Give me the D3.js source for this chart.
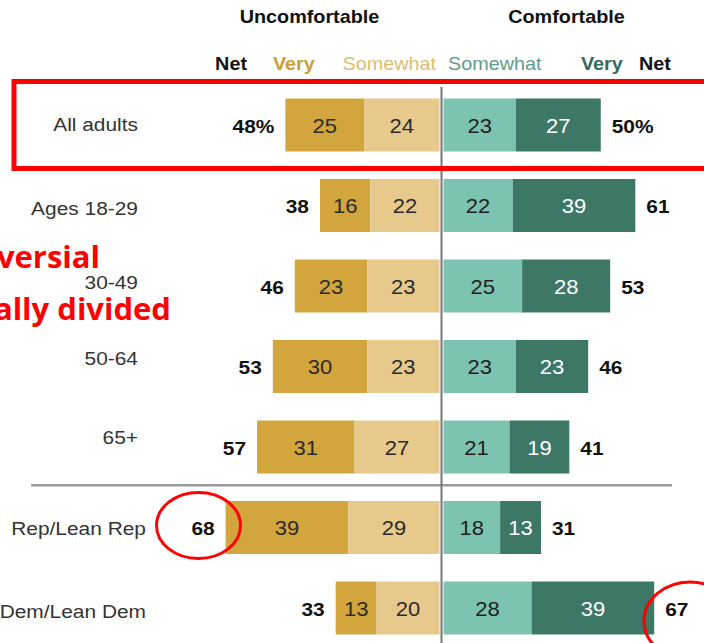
<!DOCTYPE html>
<html>
<head>
<meta charset="utf-8">
<script src="https://cdn.jsdelivr.net/npm/d3@7"></script>
<style>
  html, body { margin: 0; padding: 0; background: #fff; overflow: hidden; }
  svg { display: block; }
</style>
</head>
<body>
<svg id="chart" width="704" height="643"></svg>
<script>
// Row groups, top to bottom
const groups = ["All adults", "Ages 18-29", "30-49", "50-64", "65+", "Rep/Lean Rep", "Dem/Lean Dem"];

// Uncomfortable side
const veryUncomfortable     = [25, 16, 23, 30, 31, 39, 13];
const somewhatUncomfortable = [24, 22, 23, 23, 27, 29, 20];
const netUncomfortable      = [48, 38, 46, 53, 57, 68, 33];

// Comfortable side
const somewhatComfortable = [23, 22, 25, 23, 21, 18, 28];
const veryComfortable     = [27, 39, 28, 23, 19, 13, 39];
const netComfortable      = [50, 61, 53, 46, 41, 31, 67];

const colors = {
  veryUnc: "#d2a53d",
  someUnc: "#e6c98b",
  someCom: "#7dc3b1",
  veryCom: "#3d7766"
};

const W = 704, H = 643;
const svg = d3.select("#chart");
const FONT = "'Liberation Sans', Arial, sans-serif";

const center = 441.5, unit = 3.145, gap = 2;
// Left-hand scale grows leftwards from the divider, right-hand scale rightwards
const xl = d3.scaleLinear().domain([0, 70]).range([center - gap, center - gap - 70 * unit]);
const xr = d3.scaleLinear().domain([0, 70]).range([center + gap, center + gap + 70 * unit]);
const y = d3.scalePoint().domain(groups).range([125, 608]);
const barH = 53;

// Vertical nudges for the row names (layout only)
const nameNudge = [-3, 0, -6, -11, -12, -2, 1];

// Text helper: slightly widened sans to echo the condensed-looking original lettering
function label(g, x, yy, s, size, opts = {}) {
  return g.append("text")
    .attr("transform", `translate(${x},${yy}) scale(1.1,1)`)
    .attr("font-family", FONT)
    .attr("font-size", size)
    .attr("font-weight", opts.weight || "normal")
    .attr("fill", opts.fill || "#222")
    .attr("text-anchor", opts.anchor || "start")
    .text(s);
}

const rows = groups.map((g, i) => ({
  g, i,
  vu: veryUncomfortable[i], su: somewhatUncomfortable[i], nu: netUncomfortable[i],
  sc: somewhatComfortable[i], vc: veryComfortable[i], nc: netComfortable[i]
}));

// Column headers
const hdr = svg.append("g");
label(hdr, center - 132, 23, "Uncomfortable", 18, { weight: "bold", anchor: "middle", fill: "#111" });
label(hdr, center + 125, 23, "Comfortable", 18, { weight: "bold", anchor: "middle", fill: "#111" });
label(hdr, 247, 70, "Net", 18, { weight: "bold", anchor: "end", fill: "#111" });
label(hdr, 273, 70, "Very", 18, { weight: "bold", fill: "#c9a031" });
label(hdr, 436, 70, "Somewhat", 18, { anchor: "end", fill: "#dcbd6c" });
label(hdr, 448, 70, "Somewhat", 18, { fill: "#5d9d8b" });
label(hdr, 581, 70, "Very", 18, { weight: "bold", fill: "#2f6c59" });
label(hdr, 639, 70, "Net", 18, { weight: "bold", fill: "#111" });

// Divider between age groups and partisan groups
const sepY = (y(groups[4]) + y(groups[5])) / 2 - 2;
svg.append("line")
  .attr("x1", 31).attr("x2", 672)
  .attr("y1", sepY).attr("y2", sepY)
  .attr("stroke", "#9a9a9a").attr("stroke-width", 2.5);

// Bars
const bars = svg.append("g");
const rowG = bars.selectAll("g.row").data(rows).join("g").attr("class", "row");

const segs = [
  { key: "veryUnc", x0: d => xl(d.su + d.vu), x1: d => xl(d.su), v: d => d.vu, txt: "#2b2b2b" },
  { key: "someUnc", x0: d => xl(d.su), x1: d => xl(0), v: d => d.su, txt: "#2b2b2b" },
  { key: "someCom", x0: d => xr(0), x1: d => xr(d.sc), v: d => d.sc, txt: "#1f1f1f" },
  { key: "veryCom", x0: d => xr(d.sc), x1: d => xr(d.sc + d.vc), v: d => d.vc, txt: "#ffffff" }
];

segs.forEach(s => {
  rowG.append("rect")
    .attr("x", d => s.x0(d))
    .attr("width", d => s.x1(d) - s.x0(d))
    .attr("y", d => y(d.g) - barH / 2)
    .attr("height", barH)
    .attr("fill", colors[s.key]);
  rowG.each(function (d) {
    label(d3.select(this), (s.x0(d) + s.x1(d)) / 2, y(d.g) + 7.5, s.v(d), 20,
      { anchor: "middle", fill: s.txt });
  });
});

// Net totals and row names
rowG.each(function (d) {
  const g = d3.select(this);
  const cy = y(d.g) + 7.5;
  const fmt = v => d.i === 0 ? v + "%" : String(v);
  label(g, xl(d.su + d.vu) - 11, cy, fmt(d.nu), 19, { weight: "bold", anchor: "end", fill: "#111" });
  label(g, xr(d.sc + d.vc) + 11, cy, fmt(d.nc), 19, { weight: "bold", fill: "#111" });
  const lx = d.i >= 5 ? 146 : 138;
  label(g, lx, y(d.g) + 9 + nameNudge[d.i], d.g, 19, { anchor: "end", fill: "#333" });
});

// Centre divider
svg.append("line")
  .attr("x1", center).attr("x2", center)
  .attr("y1", 87).attr("y2", H)
  .attr("stroke", "#777").attr("stroke-width", 2);

// Red call-outs
const notes = svg.append("g").attr("fill", "none").attr("stroke", "#ff0000");
notes.append("rect")
  .attr("x", 14).attr("y", 81.5).attr("width", 720).attr("height", 87)
  .attr("stroke-width", 5);
notes.append("ellipse")
  .attr("cx", 198.5).attr("cy", 525.5).attr("rx", 42).attr("ry", 33)
  .attr("stroke-width", 3);
notes.append("ellipse")
  .attr("cx", 690).attr("cy", 621).attr("rx", 46).attr("ry", 39)
  .attr("stroke-width", 3);

const red = svg.append("g")
  .attr("font-family", "'Open Sans', sans-serif")
  .attr("font-weight", "bold")
  .attr("font-size", 31)
  .attr("fill", "#ff0000")
  .attr("text-anchor", "end");
red.append("text").attr("x", 100).attr("y", 268).text("Controversial");
red.append("text").attr("x", 171).attr("y", 320).text("Politically divided");
</script>
</body>
</html>
